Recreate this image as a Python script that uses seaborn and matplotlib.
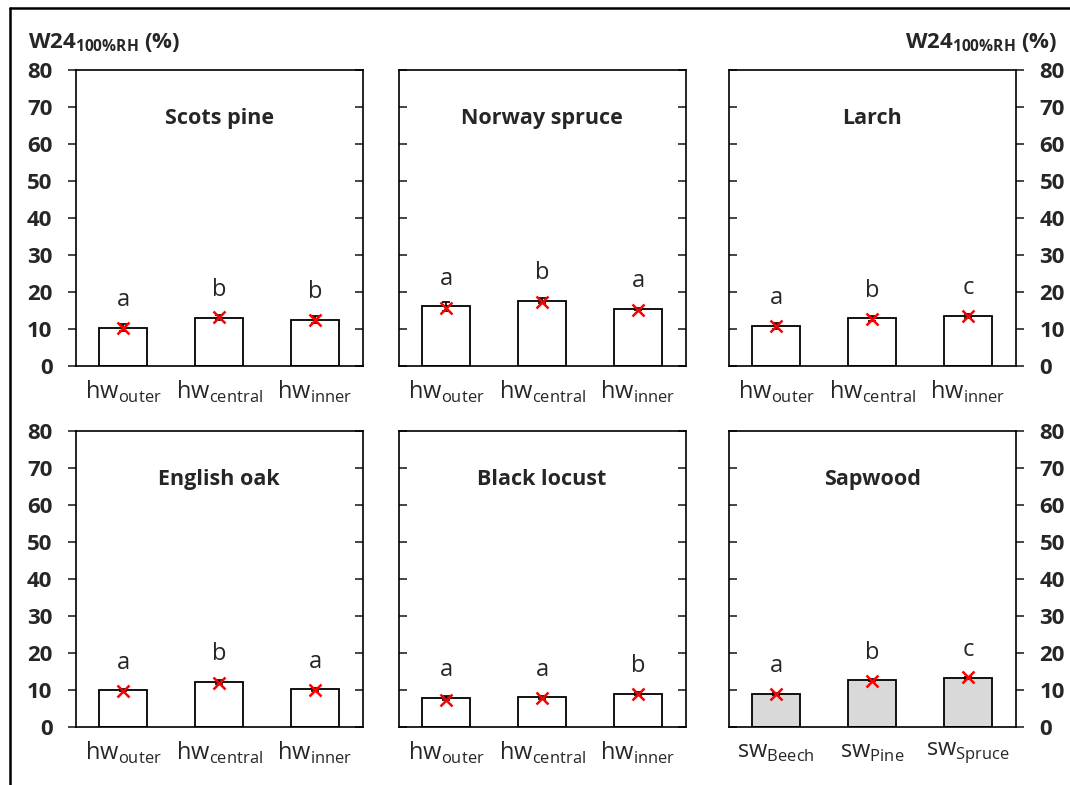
import matplotlib
matplotlib.use("Agg")
import matplotlib.pyplot as plt
import seaborn as sns
import pandas as pd
from matplotlib.lines import Line2D

sns.set_style("white")
plt.rcParams["font.family"] = ["Open Sans", "DejaVu Sans"]
plt.rcParams["mathtext.fontset"] = "custom"
plt.rcParams["mathtext.rm"] = "Open Sans"
plt.rcParams["mathtext.bf"] = "Open Sans:bold"

# Data (W24 at 100% RH, %)
titles = ["Scots pine", "Norway spruce", "Larch", "English oak", "Black locust", "Sapwood"]
hw_labels = [r"hw$_{\mathrm{outer}}$", r"hw$_{\mathrm{central}}$", r"hw$_{\mathrm{inner}}$"]
sw_labels = [r"sw$_{\mathrm{Beech}}$", r"sw$_{\mathrm{Pine}}$", r"sw$_{\mathrm{Spruce}}$"]

scots_bar = [10.4, 13.1, 12.5]
spruce_bar = [16.1, 17.7, 15.5]
larch_bar = [10.9, 12.9, 13.5]
oak_bar = [9.9, 12.2, 10.2]
locust_bar = [7.8, 8.0, 9.0]
sap_bar = [9.0, 12.6, 13.3]

scots_mark = [10.3, 13.2, 12.5]
spruce_mark = [15.8, 17.4, 15.2]
larch_mark = [10.8, 12.8, 13.4]
oak_mark = [9.8, 12.0, 10.1]
locust_mark = [7.4, 7.9, 8.8]
sap_mark = [8.8, 12.3, 13.4]

scots_err = [0.9, 0.6, 0.9]
spruce_err = [1.2, 0.8, 0.3]
larch_err = [0.8, 0.7, 0.6]
oak_err = [0.3, 0.6, 0.4]
locust_err = [0.6, 0.4, 0.4]
sap_err = [0.3, 0.3, 0.3]

scots_let = ["a", "b", "b"]
spruce_let = ["a", "b", "a"]
larch_let = ["a", "b", "c"]
oak_let = ["a", "b", "a"]
locust_let = ["a", "a", "b"]
sap_let = ["a", "b", "c"]

panels = [
    (scots_bar, scots_mark, scots_err, scots_let, hw_labels, "white"),
    (spruce_bar, spruce_mark, spruce_err, spruce_let, hw_labels, "white"),
    (larch_bar, larch_mark, larch_err, larch_let, hw_labels, "white"),
    (oak_bar, oak_mark, oak_err, oak_let, hw_labels, "white"),
    (locust_bar, locust_mark, locust_err, locust_let, hw_labels, "white"),
    (sap_bar, sap_mark, sap_err, sap_let, sw_labels, "#d9d9d9"),
]

W, H = 1070, 785
fig = plt.figure(figsize=(W / 100, H / 100), dpi=100)

lefts = [76, 399, 729]
tops = [70, 431]
pw, ph = 287, 296

for i, (bars, marks, errs, lets, labels, fill) in enumerate(panels):
    row, col = divmod(i, 3)
    ax = fig.add_axes([lefts[col] / W, 1 - (tops[row] + ph) / H, pw / W, ph / H])
    df = pd.DataFrame({"cat": [0, 1, 2], "val": bars})
    sns.barplot(data=df, x="cat", y="val", color=fill, edgecolor="black",
                linewidth=1.3, width=0.5, saturation=1, ax=ax)
    pos = list(range(3))
    ax.errorbar(pos, bars, yerr=errs, fmt="none", ecolor="black",
                elinewidth=1.2, capsize=3, capthick=1.2, zorder=3)
    ax.plot(pos, marks, linestyle="none", marker="x", color="red",
            markersize=9, markeredgewidth=1.8, zorder=4)
    for p, b, l in zip(pos, bars, lets):
        ax.text(p, b + 7.5, l, ha="center", va="center", fontsize=17)
    ax.text(1, 67, titles[i], ha="center", va="center", fontsize=15.5,
            fontweight="bold")

    ax.set_xlim(-0.49, 2.5)
    ax.set_ylim(0, 80)
    ax.set_yticks(range(0, 81, 10))
    ax.set_xticks(pos)
    ax.set_xticklabels(labels, fontsize=17)
    ax.tick_params(axis="x", length=0, pad=9)
    ax.set_xlabel("")
    ax.set_ylabel("")
    for s in ax.spines.values():
        s.set_visible(True)
        s.set_color("black")
        s.set_linewidth(1.2)

    ax.yaxis.set_ticks_position("both")
    ax.tick_params(axis="y", length=6, width=1.2, left=True, right=True,
                   labelleft=(col == 0), labelright=(col == 2),
                   pad=11, labelsize=16)
    for t in ax.get_yticklabels():
        t.set_fontweight("bold")

    # tick direction per side: outer edges point out, inner edges point in
    for tick in ax.yaxis.get_major_ticks():
        if col == 0:
            tick.tick1line.set_marker(matplotlib.lines.TICKLEFT)
            tick.tick2line.set_marker(matplotlib.lines.TICKLEFT)
        elif col == 1:
            tick.tick1line.set_marker(matplotlib.lines.TICKRIGHT)
            tick.tick2line.set_marker(matplotlib.lines.TICKLEFT)
        else:
            tick.tick1line.set_marker(matplotlib.lines.TICKRIGHT)
            tick.tick2line.set_marker(matplotlib.lines.TICKRIGHT)

fig.text(28 / W, 1 - 42 / H, r"$\mathbf{W24}_{\mathbf{100\%RH}}$ (%)",
         ha="left", va="center", fontsize=16, fontweight="bold")
fig.text(1058 / W, 1 - 42 / H, r"$\mathbf{W24}_{\mathbf{100\%RH}}$ (%)",
         ha="right", va="center", fontsize=16, fontweight="bold")

# figure frame
fig.add_artist(Line2D([10 / W, 10 / W], [0, 1 - 8 / H], color="black", lw=1.8))
fig.add_artist(Line2D([10 / W, 1], [1 - 8 / H, 1 - 8 / H], color="black", lw=1.8))

fig.savefig("out.png", dpi=100)
